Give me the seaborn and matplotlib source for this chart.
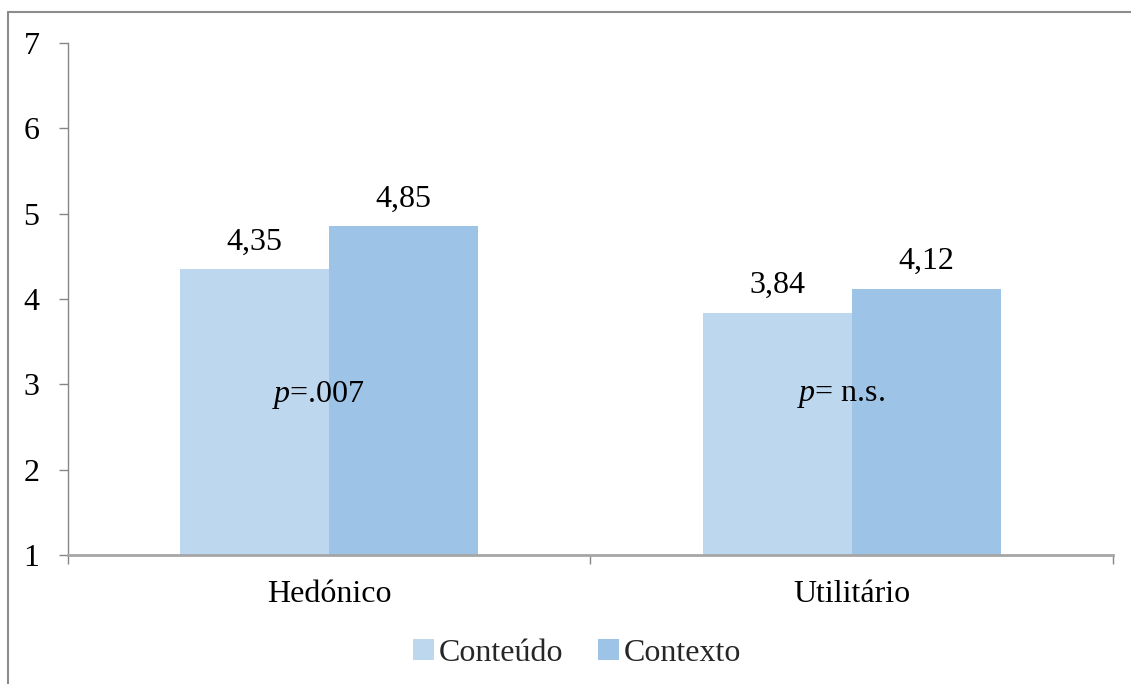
import matplotlib
matplotlib.use("Agg")
import matplotlib.pyplot as plt
from matplotlib.lines import Line2D
from matplotlib.ticker import FixedLocator
import seaborn as sns
import pandas as pd

categories = ["Hedónico", "Utilitário"]
groups = ["Conteúdo", "Contexto"]
conteudo = [4.35, 3.84]
contexto = [4.85, 4.12]
p_labels = ["=.007", "= n.s."]
y_ticks = [1, 2, 3, 4, 5, 6, 7]

df = pd.DataFrame({
    "categoria": categories * 2,
    "grupo": [groups[0]] * len(categories) + [groups[1]] * len(categories),
    "valor": conteudo + contexto,
})

sns.set_theme(style="white")
plt.rcParams["font.family"] = ["Liberation Serif", "DejaVu Serif"]
plt.rcParams["mathtext.fontset"] = "custom"
plt.rcParams["mathtext.it"] = "Liberation Serif:italic"
plt.rcParams["mathtext.rm"] = "Liberation Serif"

FS = 23

fig = plt.figure(figsize=(11.31, 6.84), dpi=100)
ax = fig.add_axes([0.0601, 0.1886, 0.9239, 0.7485])

palette = ["#BDD7EE", "#9DC3E6"]
sns.barplot(data=df, x="categoria", y="valor", hue="grupo", palette=palette,
            width=0.57, gap=0, saturation=1, ax=ax, legend=True, linewidth=0)

for container in ax.containers:
    labels = [f"{v:.2f}".replace(".", ",") for v in container.datavalues]
    ax.bar_label(container, labels=labels, padding=9, fontsize=FS, color="black")

for i, txt in enumerate(p_labels):
    ax.text(i - 0.02, 2.87, "$p$" + txt, ha="center", va="center", fontsize=FS, color="black")

ax.set_ylim(1, 7)
ax.set_xlim(-0.5, len(categories) - 0.5)
ax.yaxis.set_major_locator(FixedLocator(y_ticks))
ax.set_xlabel("")
ax.set_ylabel("")

for side in ["top", "right"]:
    ax.spines[side].set_visible(False)
ax.spines["left"].set_color("#868686")
ax.spines["left"].set_linewidth(1.0)
ax.spines["bottom"].set_color("#A6A6A6")
ax.spines["bottom"].set_linewidth(2.0)

ax.tick_params(axis="y", which="major", left=True, length=6.5, width=1, color="#868686",
               labelsize=FS, pad=14, labelcolor="black")
ax.tick_params(axis="x", which="major", bottom=False, labelsize=FS, pad=12, labelcolor="black")
ax.xaxis.set_minor_locator(FixedLocator([-0.5, 0.5, 1.5]))
ax.tick_params(axis="x", which="minor", bottom=True, length=6.5, width=1, color="#868686")

handles, labels = ax.get_legend_handles_labels()
ax.legend_.remove()
fig.legend(handles, labels, loc="center", bbox_to_anchor=(0.51, 0.045), ncol=2,
           frameon=False, fontsize=FS, handlelength=0.65, handleheight=0.65,
           handletextpad=0.15, columnspacing=1.1, borderpad=0)

border = "#8C8C8C"
fig.add_artist(Line2D([8 / 1131, 8 / 1131], [0, 1 - 12 / 684], transform=fig.transFigure,
                      color=border, linewidth=1.5))
fig.add_artist(Line2D([8 / 1131, 1], [1 - 12 / 684, 1 - 12 / 684], transform=fig.transFigure,
                      color=border, linewidth=1.5))

fig.savefig("out.png", dpi=100, facecolor="white")
